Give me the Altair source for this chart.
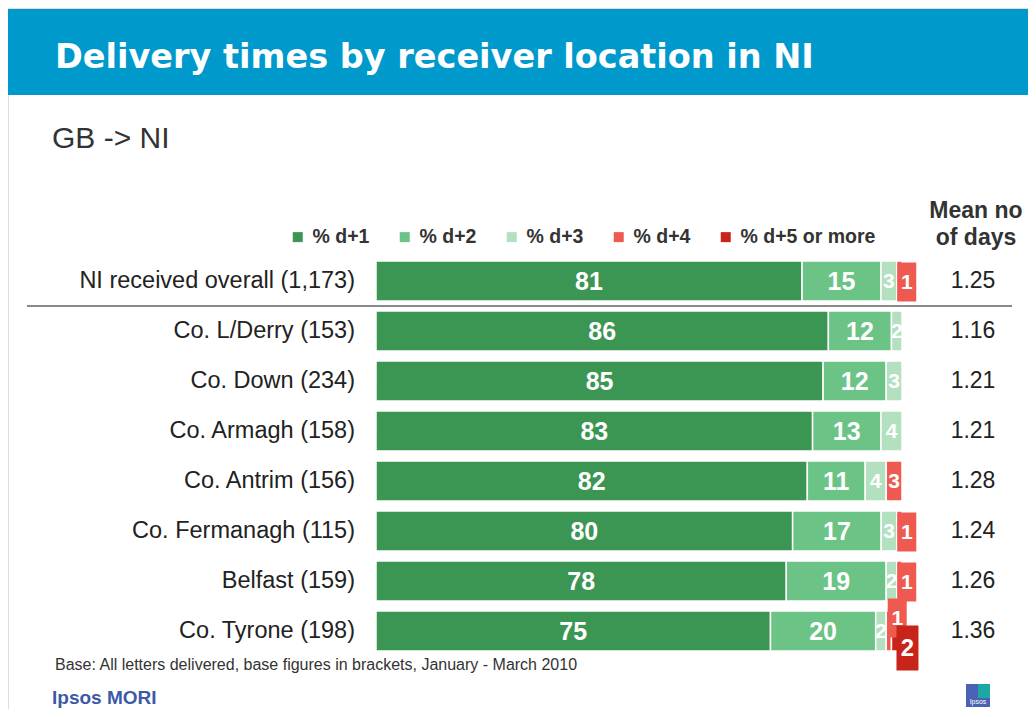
import altair as alt
import pandas as pd

# ---------------- data ----------------
categories = [
    "NI received overall (1,173)",
    "Co. L/Derry (153)",
    "Co. Down (234)",
    "Co. Armagh (158)",
    "Co. Antrim (156)",
    "Co. Fermanagh (115)",
    "Belfast (159)",
    "Co. Tyrone (198)",
]
levels = ["% d+1", "% d+2", "% d+3", "% d+4", "% d+5 or more"]
d1 = [81, 86, 85, 83, 82, 80, 78, 75]
d2 = [15, 12, 12, 13, 11, 17, 19, 20]
d3 = [3, 2, 3, 4, 4, 3, 2, 2]
d4 = [1, 0, 0, 0, 3, 1, 1, 1]
d5 = [0, 0, 0, 0, 0, 0, 0, 2]
means = [1.25, 1.16, 1.21, 1.21, 1.28, 1.24, 1.26, 1.36]
colors = ["#3b9553", "#6cc386", "#b3e1bf", "#ef5a50", "#c9241a"]

title_text = "Delivery times by receiver location in NI"
subtitle_text = "GB -> NI"
footnote_text = "Base: All letters delivered, base figures in brackets, January - March 2010"

# ---------------- tables ----------------
series = [d1, d2, d3, d4, d5]
rows = []
for i, cat in enumerate(categories):
    vals = [s[i] for s in series]
    total = sum(vals)
    acc = 0
    for k, (lev, v) in enumerate(zip(levels, vals)):
        start = acc / total
        acc += v
        end = acc / total
        if v > 0:
            rows.append(dict(cat=cat, level=lev, value=v, start=start, end=end,
                             mid=(start + end) / 2, has_d5=d5[i] > 0, order=k))
df = pd.DataFrame(rows)
mean_df = pd.DataFrame({"cat": categories, "mean": [f"{m:.2f}" for m in means]})
one = pd.DataFrame({"a": [0]})

FONT = "Liberation Sans"
xscale = alt.Scale(domain=[0, 1], range=[368, 894])
yscale = alt.Scale(domain=categories, range=[248, 648], paddingInner=0.2, paddingOuter=0.1)
Y = alt.Y("cat:N", scale=yscale, axis=None)

# ---------------- decorations ----------------
banner = alt.Chart(one).mark_rect(color="#0099cc").encode(
    x=alt.value(-3), x2=alt.value(1028), y=alt.value(1), y2=alt.value(87))
title = alt.Chart(one).mark_text(
    text=title_text, font="DejaVu Sans", fontWeight="bold", fontSize=33.5,
    color="white", align="left", baseline="alphabetic").encode(
    x=alt.value(47), y=alt.value(60))
subtitle = alt.Chart(one).mark_text(
    text=subtitle_text, font=FONT, fontSize=30, color="#333333",
    align="left", baseline="alphabetic").encode(x=alt.value(44), y=alt.value(140))
mean_h1 = alt.Chart(one).mark_text(
    text="Mean no", font=FONT, fontWeight="bold", fontSize=23, color="#333333",
    align="center", baseline="alphabetic").encode(x=alt.value(968), y=alt.value(210))
mean_h2 = alt.Chart(one).mark_text(
    text="of days", font=FONT, fontWeight="bold", fontSize=23, color="#333333",
    align="center", baseline="alphabetic").encode(x=alt.value(968), y=alt.value(237))
sep = alt.Chart(one).mark_rule(color="#8a8a8a", strokeWidth=2).encode(
    x=alt.value(19), x2=alt.value(1004), y=alt.value(298))
foot = alt.Chart(one).mark_text(
    text=footnote_text, font=FONT, fontSize=16, color="#333333",
    align="left", baseline="alphabetic").encode(x=alt.value(47), y=alt.value(662))
brand = alt.Chart(one).mark_text(
    text="Ipsos MORI", font=FONT, fontWeight="bold", fontSize=19, color="#3c5aa6",
    align="left", baseline="middle").encode(x=alt.value(44), y=alt.value(690))
logo = alt.Chart(one).mark_rect(color="#4a62b4").encode(
    x=alt.value(958), x2=alt.value(982), y=alt.value(676), y2=alt.value(699))
logo2 = alt.Chart(one).mark_rect(color="#1aa8a0").encode(
    x=alt.value(970), x2=alt.value(982), y=alt.value(676), y2=alt.value(690))
logo_t = alt.Chart(one).mark_text(
    text="Ipsos", font=FONT, fontSize=7, color="white", align="center",
    baseline="middle").encode(x=alt.value(970), y=alt.value(694))

# ---------------- bars ----------------
bars = alt.Chart(df).mark_rect(stroke="white", strokeWidth=1.5).encode(
    x=alt.X("start:Q", scale=xscale, axis=None),
    x2="end:Q",
    y=Y,
    color=alt.Color("level:N", scale=alt.Scale(domain=levels, range=colors),
                    legend=alt.Legend(title=None, orient="none", legendX=280, legendY=219,
                                      direction="horizontal", symbolType="square",
                                      symbolSize=100, symbolStrokeWidth=0,
                                      labelFont=FONT, labelFontWeight="bold",
                                      labelFontSize=19.5, labelColor="#333333",
                                      columnPadding=25, labelOffset=5)),
    order="order:Q",
)

big = df[df["level"].isin(levels[:2])]
small = df[(df["level"] == levels[2]) | ((df["level"] == levels[3]) & (df["value"] >= 3))]
callA = df[(df["level"] == levels[3]) & (df["value"] < 3) & (~df["has_d5"])]
callB = df[(df["level"] == levels[3]) & (df["value"] < 3) & (df["has_d5"])]
callC = df[df["level"] == levels[4]]

big_t = alt.Chart(big).mark_text(font=FONT, fontWeight="bold", fontSize=25,
                                 color="white", baseline="middle", dy=1).encode(
    x=alt.X("mid:Q", scale=xscale), y=Y, text="value:Q")
small_t = alt.Chart(small).mark_text(font=FONT, fontWeight="bold", fontSize=21,
                                     color="white", baseline="middle", dy=1).encode(
    x=alt.X("mid:Q", scale=xscale), y=Y, text="value:Q")

box19 = "M-0.487,-1H0.487V1H-0.487Z"
box22 = "M-0.489,-1H0.489V1H-0.489Z"


def callout(data, color, dx, dy, size, shape, fs):
    pt = alt.Chart(data).mark_point(filled=True, opacity=1, shape=shape, size=size,
                                    color=color, strokeWidth=0,
                                    xOffset=dx, yOffset=dy).encode(
        x=alt.X("start:Q", scale=xscale), y=Y)
    tx = alt.Chart(data).mark_text(font=FONT, fontWeight="bold", fontSize=fs,
                                   color="white", baseline="middle",
                                   xOffset=dx, yOffset=dy + 1).encode(
        x=alt.X("start:Q", scale=xscale), y=Y, text="value:Q")
    return pt + tx


cA = callout(callA, colors[3], 10, 1, 1521, box19, 21)
cB = callout(callB, colors[3], 11, -13, 1521, box19, 21)
cC = callout(callC, colors[4], 16, 17, 2025, box22, 24)

cat_t = alt.Chart(mean_df).mark_text(font=FONT, fontSize=23.5, color="#222222",
                                     align="right", baseline="middle").encode(
    x=alt.value(347), y=Y, text="cat:N")
mean_t = alt.Chart(mean_df).mark_text(font=FONT, fontSize=23, color="#222222",
                                      align="center", baseline="middle").encode(
    x=alt.value(965), y=Y, text="mean:N")

chart = alt.layer(
    banner, title, subtitle, mean_h1, mean_h2, sep,
    bars, big_t, small_t, cA, cB, cC, cat_t, mean_t,
    foot, brand, logo, logo2, logo_t,
).properties(
    width=1020, height=701,
    autosize=alt.AutoSizeParams(type="none"), padding=0,
).configure_view(stroke=None).configure(background="white")

chart.save("out.html", embed_options={"renderer": "svg", "actions": False})
